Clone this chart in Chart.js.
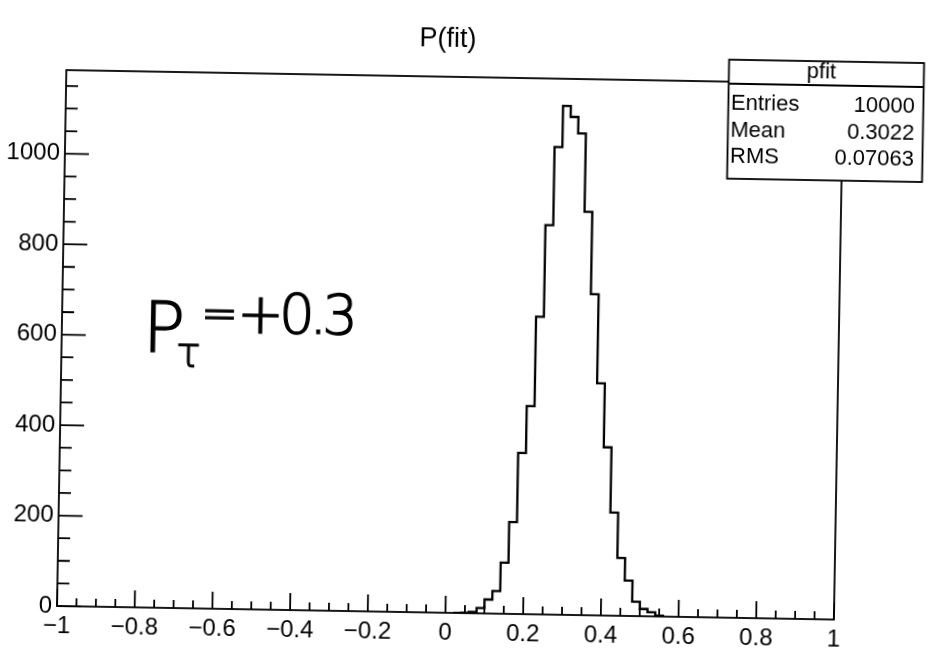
<!DOCTYPE html>
<html>
<head>
<meta charset="utf-8">
<script src="https://cdn.jsdelivr.net/npm/chart.js@4.4.1/dist/chart.umd.min.js"></script>
<style>
  html, body { margin: 0; padding: 0; background: #fff; overflow: hidden; }
  /* the scan is turned by about one degree */
  #grafico { display: block; transform: rotate(1deg); transform-origin: 57px 606px; }
</style>
</head>
<body>
<canvas id="grafico" width="930" height="656"></canvas>
<script>
// lower bin edges (width 0.02) and bin contents
const binLow = [0.02, 0.04, 0.06, 0.08, 0.10, 0.12, 0.14, 0.16, 0.18, 0.20,
                0.22, 0.24, 0.26, 0.28, 0.30, 0.32, 0.34, 0.36, 0.38, 0.40,
                0.42, 0.44, 0.46, 0.48, 0.50, 0.52, 0.54];
const counts = [0, 1, 3, 12, 31, 50, 113, 203, 356, 460,
                658, 861, 1034, 1125, 1101, 1065, 892, 710, 513, 372,
                228, 128, 78, 32, 16, 9, 2];
const lastEdge = 0.56;

const xTicks = [-1, -0.8, -0.6, -0.4, -0.2, 0, 0.2, 0.4, 0.6, 0.8, 1];
const yTicks = [0, 200, 400, 600, 800, 1000];

const titulo = "P(fit)";
const statsTitle = "pfit";
const statsNames = ["Entries", "Mean", "RMS"];
const statsValues = ["10000", "0.3022", "0.07063"];

const FONT = "'Liberation Sans', Arial, Helvetica, sans-serif";
const NARROW = "'Liberation Sans Narrow', 'Arial Narrow', " + FONT;
const HAND = "'DejaVu Sans', " + FONT;

function fmt(v) {
  const r = Math.round(v * 10) / 10;
  if (r === 0) return "0";
  return (r < 0 ? "\u2212" : "") + String(Math.abs(r));
}

function escreve(ctx, txt, x, y) {
  ctx.fillText(txt, x, y);
  ctx.strokeText(txt, x, y);
}

// frame, inside ticks, title, stats box, handwritten note
const rootStyle = {
  id: "rootStyle",
  afterDraw(chart) {
    const ctx = chart.ctx;
    const a = chart.chartArea;
    const xs = chart.scales.x, ys = chart.scales.y;
    ctx.save();
    ctx.strokeStyle = "#000";
    ctx.fillStyle = "#000";
    ctx.lineWidth = 1.8;

    // frame
    ctx.strokeRect(a.left, a.top, a.right - a.left, a.bottom - a.top);

    // x ticks (inside, upward)
    ctx.beginPath();
    for (let i = 0; i <= 40; i++) {
      const v = -1 + i * 0.05;
      const px = xs.getPixelForValue(v);
      const len = (i % 4 === 0) ? 17 : 8;
      ctx.moveTo(px, a.bottom);
      ctx.lineTo(px, a.bottom - len);
    }
    // y ticks (inside, to the right)
    for (let v = 0; v <= ys.max; v += 50) {
      const py = ys.getPixelForValue(v);
      const len = (v % 200 === 0) ? 24 : 12;
      ctx.moveTo(a.left, py);
      ctx.lineTo(a.left + len, py);
    }
    ctx.stroke();

    // title
    ctx.font = "27px " + FONT;
    ctx.textAlign = "center";
    ctx.textBaseline = "alphabetic";
    ctx.fillText(titulo, 438, 40);

    // stats box
    const bx = 719.5, by = 48, bw = 195, bh = 119;
    ctx.fillStyle = "#fff";
    ctx.fillRect(bx, by, bw, bh);
    ctx.strokeRect(bx, by, bw, bh);
    ctx.beginPath();
    ctx.moveTo(bx, 72);
    ctx.lineTo(bx + bw, 72);
    ctx.stroke();
    ctx.fillStyle = "#000";
    ctx.font = "22px " + FONT;
    ctx.textAlign = "center";
    ctx.fillText(statsTitle, 812, 65);
    const rowY = [98, 125, 151];
    statsNames.forEach((n, i) => {
      ctx.textAlign = "left";
      ctx.fillText(n, 722, rowY[i]);
      ctx.textAlign = "right";
      ctx.fillText(statsValues[i], 906, rowY[i]);
    });

    // handwritten note
    ctx.textAlign = "left";
    ctx.lineWidth = 1.3;
    ctx.font = "200 70px " + HAND;
    escreve(ctx, "P", 138, 350);
    ctx.font = "200 40px " + HAND;
    escreve(ctx, "\u03C4", 172, 364);
    ctx.font = "200 44px " + HAND;
    escreve(ctx, "=", 196, 326);
    ctx.font = "200 56px " + HAND;
    ctx.letterSpacing = "-5px";
    escreve(ctx, "+0.3", 232, 329);
    ctx.letterSpacing = "0px";

    ctx.restore();
  }
};

Chart.defaults.font.family = FONT;
Chart.defaults.color = "#000";

const pontos = binLow.map((x, i) => ({ x: x, y: counts[i] }));
pontos.push({ x: lastEdge, y: 0 });

const ctx = document.getElementById("grafico").getContext("2d");
const chart = new Chart(ctx, {
  type: "line",
  data: {
    datasets: [{
      label: "pfit",
      data: pontos,
      stepped: true,
      borderColor: "#000",
      borderWidth: 2.3,
      pointRadius: 0,
      fill: false
    }]
  },
  options: {
    responsive: false,
    animation: false,
    devicePixelRatio: 1,
    layout: { padding: { left: 0, right: 96, top: 70, bottom: 0 } },
    plugins: {
      legend: { display: false },
      tooltip: { enabled: false },
      title: { display: false }
    },
    scales: {
      x: {
        type: "linear",
        min: -1,
        max: 1,
        afterBuildTicks: s => { s.ticks = xTicks.map(v => ({ value: v })); },
        afterFit: s => { s.height = 50; },
        grid: { display: false, drawTicks: false },
        border: { display: false },
        ticks: {
          autoSkip: false,
          maxRotation: 0,
          padding: 6,
          font: { size: 24, family: NARROW },
          callback: v => fmt(v)
        }
      },
      y: {
        type: "linear",
        min: 0,
        max: 1185,
        afterBuildTicks: s => { s.ticks = yTicks.map(v => ({ value: v })); },
        afterFit: s => { s.width = 57; },
        grid: { display: false, drawTicks: false },
        border: { display: false },
        ticks: {
          autoSkip: false,
          padding: 5,
          font: { size: 24, family: NARROW },
          callback: v => String(v)
        }
      }
    }
  },
  plugins: [rootStyle]
});
</script>
</body>
</html>
